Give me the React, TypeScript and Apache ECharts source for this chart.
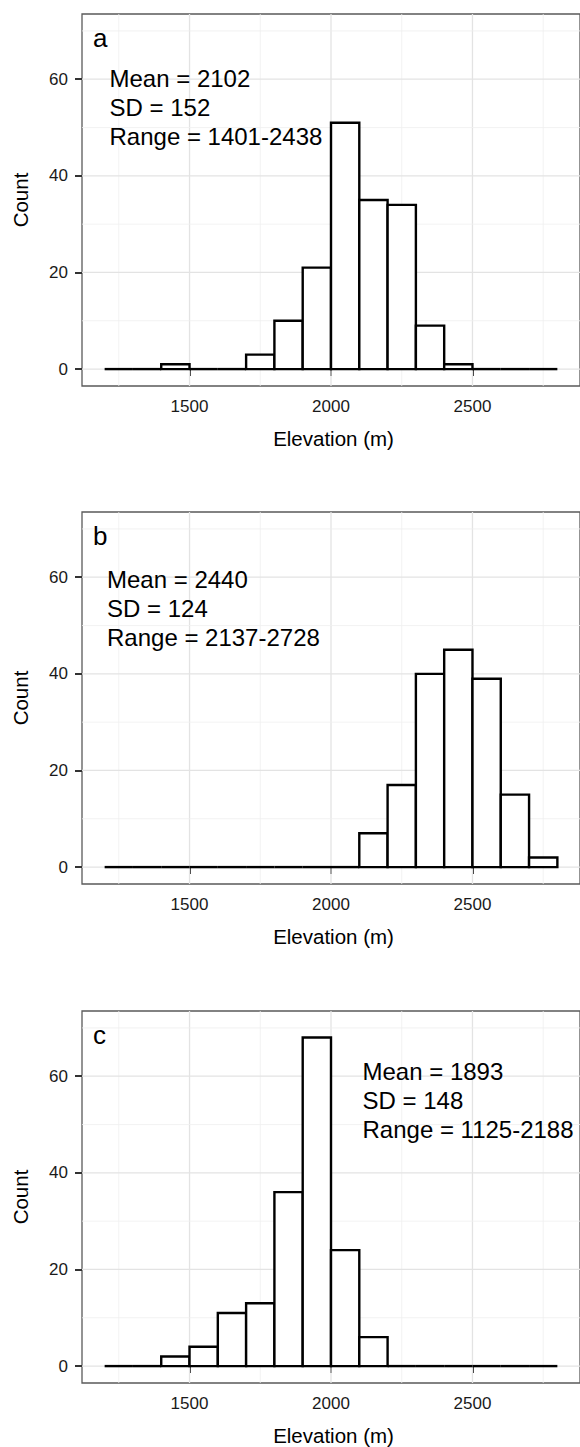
import React, { useEffect, useRef } from "react";
import * as echarts from "echarts";

// ---- data ----
const binStarts = [1200, 1300, 1400, 1500, 1600, 1700, 1800, 1900, 2000, 2100, 2200, 2300, 2400, 2500, 2600, 2700];
const binWidth = 100;
const countsA = [0, 0, 1, 0, 0, 3, 10, 21, 51, 35, 34, 9, 1, 0, 0, 0];
const countsB = [0, 0, 0, 0, 0, 0, 0, 0, 0, 7, 17, 40, 45, 39, 15, 2];
const countsC = [0, 0, 2, 4, 11, 13, 36, 68, 24, 6, 0, 0, 0, 0, 0, 0];
const panelLetters = ["a", "b", "c"];
const statsA = ["Mean = 2102", "SD = 152", "Range = 1401-2438"];
const statsB = ["Mean = 2440", "SD = 124", "Range = 2137-2728"];
const statsC = ["Mean = 1893", "SD = 148", "Range = 1125-2188"];
const xTicks = [1500, 2000, 2500];
const xMinorGrid = [1250, 1750, 2250, 2750];
const yTicks = [0, 20, 40, 60];
const yMinorGrid = [10, 30, 50, 70];
const xTitle = "Elevation (m)";
const yTitle = "Count";

const FONT = '"Liberation Sans", Arial, Helvetica, sans-serif';

export default function App() {
  const ref = useRef<HTMLDivElement>(null);
  useEffect(() => {
    document.body.style.margin = "0";
    if (!ref.current) return;
    const chart = echarts.init(ref.current, null, { renderer: "svg" });

    const tops = [14, 512, 1011];
    const gridH = 372;
    const gridLeft = 82;
    const gridW = 503;
    const allCounts = [countsA, countsB, countsC];
    const allStats = [statsA, statsB, statsC];
    const statX = [109.5, 107, 362.5];
    const statY0 = [78.5, 579.5, 1071.5];

    const grids: any[] = [];
    const xAxes: any[] = [];
    const yAxes: any[] = [];
    const series: any[] = [];
    const graphics: any[] = [];
    const plain = (v: number) => String(v);

    tops.forEach((top, i) => {
      grids.push({
        left: gridLeft,
        top,
        width: gridW,
        height: gridH,
        show: true,
        borderColor: "#5a5a5a",
        borderWidth: 1.3,
        backgroundColor: "#ffffff",
        containLabel: false,
      });
      xAxes.push({
        type: "value",
        gridIndex: i,
        min: 1120,
        max: 2880,
        axisLine: { show: false },
        splitLine: { show: false },
        axisTick: {
          show: true,
          customValues: xTicks,
          length: 7,
          lineStyle: { color: "#333", width: 2 },
        },
        axisLabel: {
          customValues: xTicks,
          formatter: plain,
          fontSize: 17,
          fontFamily: FONT,
          color: "#1a1a1a",
          margin: 12,
        },
      });
      yAxes.push({
        type: "value",
        gridIndex: i,
        min: -3.5,
        max: 73.5,
        axisLine: { show: false },
        splitLine: { show: false },
        axisTick: {
          show: true,
          customValues: yTicks,
          length: 7,
          lineStyle: { color: "#333", width: 2 },
        },
        axisLabel: {
          customValues: yTicks,
          formatter: plain,
          fontSize: 17,
          fontFamily: FONT,
          color: "#1a1a1a",
          margin: 14,
        },
      });

      // grid lines: [x, y, kind(0 = vertical, 1 = horizontal), major(1)/minor(0)]
      const gridData: number[][] = [];
      xTicks.forEach((v) => gridData.push([v, 0, 0, 1]));
      xMinorGrid.forEach((v) => gridData.push([v, 0, 0, 0]));
      yTicks.forEach((v) => gridData.push([1500, v, 1, 1]));
      yMinorGrid.forEach((v) => gridData.push([1500, v, 1, 0]));
      series.push({
        type: "custom",
        xAxisIndex: i,
        yAxisIndex: i,
        z: 1,
        silent: true,
        data: gridData,
        renderItem: (params: any, api: any) => {
          const cs = params.coordSys;
          const kind = api.value(2);
          const major = api.value(3) === 1;
          const style = { stroke: major ? "#e3e3e3" : "#efefef", lineWidth: major ? 1.3 : 0.8 };
          if (kind === 0) {
            const px = api.coord([api.value(0), 0])[0];
            return { type: "line", shape: { x1: px, y1: cs.y, x2: px, y2: cs.y + cs.height }, style };
          }
          const py = api.coord([1500, api.value(1)])[1];
          return { type: "line", shape: { x1: cs.x, y1: py, x2: cs.x + cs.width, y2: py }, style };
        },
      });

      const counts = allCounts[i];
      series.push({
        type: "custom",
        xAxisIndex: i,
        yAxisIndex: i,
        z: 3,
        data: binStarts.map((s, k) => [s, s + binWidth, counts[k]]),
        renderItem: (_params: any, api: any) => {
          const x0 = api.value(0);
          const x1 = api.value(1);
          const c = api.value(2);
          const pTop = api.coord([x0, c]);
          const pBot = api.coord([x1, 0]);
          if (c === 0) {
            return {
              type: "line",
              shape: { x1: pTop[0], y1: pBot[1], x2: pBot[0], y2: pBot[1] },
              style: { stroke: "#000", lineWidth: 2.4 },
            };
          }
          return {
            type: "rect",
            shape: { x: pTop[0], y: pTop[1], width: pBot[0] - pTop[0], height: pBot[1] - pTop[1] },
            style: { fill: "#ffffff", stroke: "#000", lineWidth: 2.4 },
          };
        },
      });

      // panel letter
      graphics.push({
        type: "text",
        z: 100,
        x: 93,
        y: top + 24,
        style: {
          text: panelLetters[i],
          fontSize: 26,
          fontFamily: FONT,
          fill: "#000",
          align: "left",
          verticalAlign: "middle",
        },
      });
      // stats
      allStats[i].forEach((t, k) => {
        graphics.push({
          type: "text",
          z: 100,
          x: statX[i],
          y: statY0[i] + k * 29,
          style: {
            text: t,
            fontSize: 24,
            fontFamily: FONT,
            fill: "#000",
            align: "left",
            verticalAlign: "middle",
          },
        });
      });
      // axis titles
      graphics.push({
        type: "text",
        z: 100,
        x: gridLeft + gridW / 2,
        y: top + gridH + 52,
        style: {
          text: xTitle,
          fontSize: 20.5,
          fontFamily: FONT,
          fill: "#000",
          align: "center",
          verticalAlign: "middle",
        },
      });
      graphics.push({
        type: "text",
        z: 100,
        x: 20,
        y: top + gridH / 2,
        rotation: Math.PI / 2,
        style: {
          text: yTitle,
          fontSize: 20.5,
          fontFamily: FONT,
          fill: "#000",
          align: "center",
          verticalAlign: "middle",
        },
      });
    });

    chart.setOption({
      animation: false,
      backgroundColor: "#ffffff",
      grid: grids,
      xAxis: xAxes,
      yAxis: yAxes,
      series,
      graphic: { elements: graphics },
    });
    return () => chart.dispose();
  }, []);
  return <div ref={ref} style={{ width: 580, height: 1447 }} />;
}
